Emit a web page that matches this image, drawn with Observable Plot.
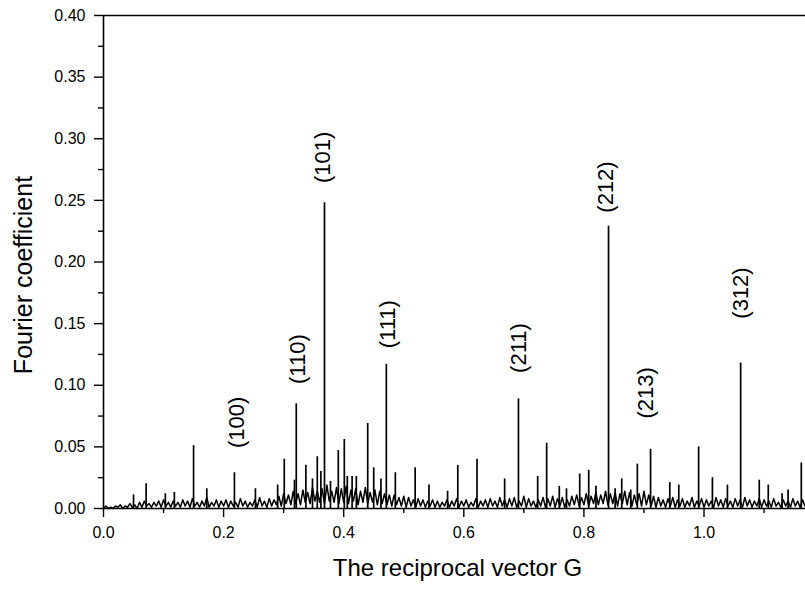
<!DOCTYPE html>
<html>
<head>
<meta charset="utf-8">
<script src="https://cdn.jsdelivr.net/npm/d3@7"></script>
<script src="https://cdn.jsdelivr.net/npm/@observablehq/plot@0.6"></script>
<style>
  html, body { margin: 0; padding: 0; background: #fff; }
  #chart svg { display: block; }
</style>
</head>
<body>
<div id="chart"></div>
<script>
// Background noise of the spectrum, sampled every noiseStep along G (starting at 0)
const noiseStep = 0.004;
const noiseValues = [
  0.000,0.002,0.000,0.001,0.000,0.002,0.001,0.003,0.000,0.002,
  0.001,0.004,0.001,0.003,0.000,0.005,0.001,0.006,0.002,0.004,
  0.001,0.005,0.002,0.006,0.001,0.007,0.002,0.005,0.001,0.006,
  0.002,0.005,0.001,0.007,0.002,0.006,0.001,0.008,0.002,0.005,
  0.001,0.006,0.002,0.009,0.001,0.005,0.002,0.007,0.001,0.006,
  0.002,0.007,0.001,0.006,0.002,0.005,0.001,0.008,0.002,0.006,
  0.001,0.005,0.002,0.007,0.001,0.009,0.002,0.006,0.001,0.008,
  0.002,0.007,0.003,0.010,0.002,0.012,0.004,0.011,0.003,0.014,
  0.004,0.012,0.003,0.015,0.005,0.013,0.004,0.017,0.006,0.014,
  0.005,0.016,0.004,0.019,0.006,0.014,0.005,0.017,0.004,0.016,
  0.005,0.018,0.004,0.015,0.006,0.016,0.003,0.014,0.005,0.017,
  0.004,0.013,0.005,0.015,0.003,0.014,0.004,0.012,0.003,0.011,
  0.002,0.011,0.003,0.009,0.002,0.010,0.001,0.009,0.002,0.007,
  0.001,0.008,0.002,0.007,0.001,0.006,0.002,0.007,0.001,0.006,
  0.001,0.005,0.002,0.007,0.001,0.006,0.002,0.008,0.001,0.006,
  0.002,0.007,0.001,0.005,0.002,0.008,0.001,0.006,0.002,0.007,
  0.001,0.008,0.002,0.006,0.001,0.009,0.002,0.007,0.001,0.008,
  0.002,0.009,0.001,0.006,0.002,0.010,0.001,0.008,0.002,0.006,
  0.001,0.007,0.002,0.009,0.001,0.008,0.002,0.010,0.001,0.008,
  0.002,0.009,0.001,0.007,0.002,0.010,0.003,0.011,0.002,0.009,
  0.003,0.012,0.002,0.010,0.004,0.013,0.003,0.011,0.004,0.014,
  0.003,0.012,0.004,0.013,0.002,0.012,0.004,0.014,0.003,0.013,
  0.002,0.011,0.003,0.012,0.002,0.014,0.003,0.011,0.002,0.010,
  0.001,0.009,0.002,0.007,0.001,0.008,0.002,0.009,0.001,0.007,
  0.002,0.008,0.001,0.006,0.002,0.009,0.001,0.006,0.002,0.008,
  0.001,0.007,0.002,0.006,0.001,0.009,0.002,0.007,0.001,0.008,
  0.002,0.006,0.001,0.008,0.002,0.007,0.001,0.009,0.002,0.007,
  0.001,0.006,0.002,0.008,0.001,0.007,0.002,0.006,0.001,0.008,
  0.002,0.005,0.001,0.007,0.002,0.006,0.001,0.008,0.002,0.006,
  0.001,0.007,0.002
];

// Individual spikes: position G and Fourier coefficient
const spikeG = [
  0.050,0.071,0.103,0.118,0.150,0.172,0.218,0.253,0.290,0.301,
  0.318,0.321,0.337,0.348,0.356,0.362,0.368,0.378,0.391,0.401,
  0.406,0.414,0.421,0.440,0.450,0.462,0.471,0.486,0.519,0.542,
  0.573,0.590,0.622,0.668,0.691,0.723,0.738,0.759,0.771,0.793,
  0.808,0.820,0.841,0.852,0.863,0.878,0.889,0.911,0.943,0.958,
  0.991,1.014,1.039,1.061,1.092,1.107,1.130,1.140,1.162
];
const spikeValue = [
  0.011,0.020,0.012,0.013,0.051,0.016,0.029,0.016,0.019,0.040,
  0.023,0.085,0.035,0.024,0.042,0.030,0.248,0.022,0.047,0.056,
  0.026,0.026,0.026,0.069,0.033,0.024,0.117,0.029,0.033,0.019,
  0.014,0.035,0.040,0.024,0.089,0.026,0.053,0.018,0.016,0.028,
  0.031,0.018,0.229,0.016,0.024,0.015,0.036,0.048,0.021,0.019,
  0.050,0.025,0.019,0.118,0.023,0.019,0.012,0.015,0.037
];

// Miller-index labels: text, position G, and coefficient level where the label starts
const labelText  = ["(100)","(110)","(101)","(111)","(211)","(212)","(213)","(312)"];
const labelG     = [0.223, 0.323, 0.366, 0.473, 0.691, 0.836, 0.903, 1.061];
const labelLevel = [0.049, 0.101, 0.264, 0.130, 0.110, 0.240, 0.073, 0.154];

// Axis ticks
const xMajorTicks = [0, 0.2, 0.4, 0.6, 0.8, 1.0];
const xMinorTicks = [0.1, 0.3, 0.5, 0.7, 0.9, 1.1];
const yMajorTicks = [0, 0.05, 0.10, 0.15, 0.20, 0.25, 0.30, 0.35, 0.40];
const yMinorTicks = [0.025, 0.075, 0.125, 0.175, 0.225, 0.275, 0.325, 0.375];

const noise = noiseValues.map((v, i) => ({g: i * noiseStep, v}));
const spikes = spikeG.map((g, i) => ({g, v: spikeValue[i]}));
const labels = labelText.map((t, i) => ({t, g: labelG[i], v: labelLevel[i]}));

const chart = Plot.plot({
  width: 805,
  height: 589,
  marginLeft: 103,
  marginRight: 0,
  marginTop: 15,
  marginBottom: 81,
  style: {fontFamily: "'Liberation Sans', Arial, sans-serif", fontSize: "16px", color: "#000", background: "#fff"},
  x: {domain: [0, 1.169]},
  y: {domain: [0, 0.4]},
  marks: [
    Plot.lineY(noise, {x: "g", y: "v", stroke: "#000", strokeWidth: 1.5}),
    Plot.ruleX(spikes, {x: "g", y1: 0, y2: "v", stroke: "#000", strokeWidth: 1.7}),
    Plot.text(labels, {x: "g", y: "v", text: "t", rotate: -90, textAnchor: "start", lineAnchor: "middle", fontSize: 22, fill: "#000"}),
    Plot.ruleY([0], {stroke: "#000", strokeWidth: 1.6}),
    Plot.ruleY([0.4], {stroke: "#000", strokeWidth: 1.6}),
    Plot.ruleX([0], {stroke: "#000", strokeWidth: 1.6}),
    Plot.axisX(xMajorTicks, {tickSize: 9, tickPadding: 9, tickFormat: d3.format(".1f"), label: null, strokeWidth: 1.4, fontSize: 16}),
    Plot.axisX(xMinorTicks, {tickSize: 5, tickFormat: () => "", label: null, strokeWidth: 1.4}),
    Plot.axisY(yMajorTicks, {tickSize: 9, tickPadding: 9, tickFormat: d3.format(".2f"), label: null, strokeWidth: 1.4, fontSize: 16}),
    Plot.axisY(yMinorTicks, {tickSize: 5, tickFormat: () => "", label: null, strokeWidth: 1.4}),
    Plot.text(["The reciprocal vector G"], {frameAnchor: "bottom", dy: 60, dx: 3, textAnchor: "middle", lineAnchor: "middle", fontSize: 24, fill: "#000"}),
    Plot.text(["Fourier coefficient"], {frameAnchor: "left", dx: -80, dy: 13, rotate: -90, textAnchor: "middle", lineAnchor: "middle", fontSize: 25, fill: "#000"})
  ]
});
document.getElementById("chart").appendChild(chart);
</script>
</body>
</html>
